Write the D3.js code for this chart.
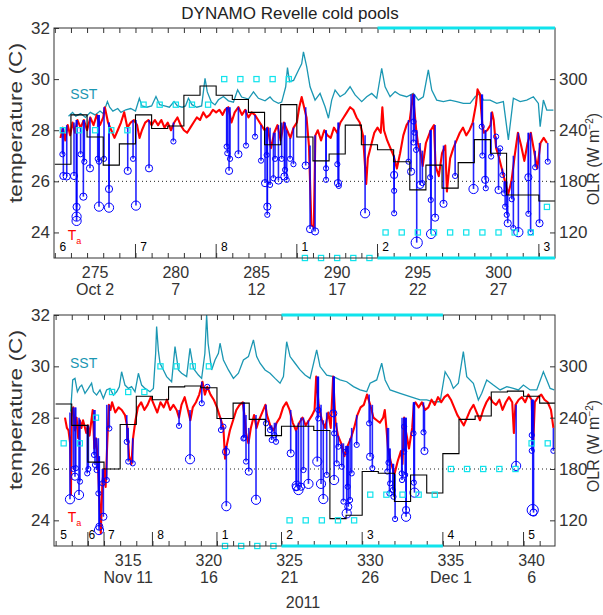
<!DOCTYPE html>
<html>
<head>
<meta charset="utf-8">
<script src="https://cdn.jsdelivr.net/npm/d3@7"></script>
<style>
body { margin: 0; background: #fff; }
svg text { font-family: "Liberation Sans", Arial, Helvetica, sans-serif; }
</style>
</head>
<body>
<div id="chart"></div>
<script>

// ---- top panel data (yearday, value) ----
var topSST = [[273.35,28.55],[273.6,28.7],[273.8,28.55],[274.1,28.65],[274.4,28.5],[274.7,28.7],[275.0,28.6],[275.3,28.75],[275.5,28.65],[275.76,29.12],[275.9,28.9],[276.1,28.75],[276.4,28.85],[276.6,28.7],[276.9,28.8],[277.2,28.85],[277.5,28.75],[277.74,29.25],[277.9,28.95],[278.2,28.9],[278.5,28.95],[278.77,29.32],[279.0,29.0],[279.3,28.95],[279.6,28.9],[279.89,29.12],[280.1,28.95],[280.4,28.9],[280.6,28.95],[280.78,29.25],[281.0,29.0],[281.3,28.9],[281.6,28.95],[281.81,30.03],[281.95,29.5],[282.2,29.1],[282.43,28.99],[282.64,29.19],[282.95,29.32],[283.26,29.15],[283.57,29.1],[283.83,29.58],[284.08,29.3],[284.5,29.22],[284.81,29.5],[285.12,29.25],[285.53,29.15],[285.84,29.3],[286.05,29.15],[286.36,29.05],[286.56,29.1],[286.81,29.7],[286.92,30.45],[287.05,29.9],[287.3,29.95],[287.6,30.35],[287.8,30.6],[287.91,31.07],[288.11,30.49],[288.32,29.7],[288.63,29.18],[288.94,29.44],[289.25,28.92],[289.46,28.47],[289.66,29.18],[289.87,29.57],[290.18,29.31],[290.49,29.44],[290.8,29.7],[291.11,29.38],[291.52,29.12],[291.83,29.31],[292.14,29.44],[292.45,29.25],[292.76,30.42],[292.97,29.7],[293.28,29.31],[293.59,29.51],[293.9,29.38],[294.31,29.31],[294.72,29.44],[295.03,29.18],[295.34,29.31],[295.65,30.36],[295.86,29.57],[296.17,29.18],[296.58,29.12],[297.0,29.18],[297.41,29.12],[297.82,29.05],[298.24,29.05],[298.55,29.31],[298.86,29.44],[299.06,29.18],[299.48,29.18],[299.89,29.05],[300.3,29.12],[300.61,27.62],[300.92,29.25],[301.34,29.12],[301.75,29.18],[302.16,29.31],[302.47,29.05],[302.58,28.14],[302.78,29.18],[302.99,28.79],[303.4,28.79]]

var topTa = [[272.85,27.7],[273.0,28.1],[273.15,27.6],[273.3,28.2],[273.45,27.8],[273.6,28.3],[273.75,27.9],[273.9,28.4],[274.1,28.1],[274.3,28.4],[274.5,28.0],[274.7,28.5],[274.9,28.2],[275.1,28.6],[275.3,28.2],[275.5,28.5],[275.6,28.9],[275.8,28.3],[276.0,28.0],[276.2,27.7],[276.4,28.0],[276.6,28.3],[276.8,28.7],[277.0,28.1],[277.2,28.3],[277.4,28.4],[277.6,28.2],[277.75,27.7],[277.9,28.0],[278.1,28.3],[278.3,28.4],[278.5,28.2],[278.7,28.4],[278.9,28.2],[279.1,28.4],[279.3,28.1],[279.5,28.3],[279.7,28.0],[279.9,28.3],[280.1,28.5],[280.3,28.2],[280.5,28.0],[280.7,27.9],[280.9,28.1],[281.1,28.3],[281.3,28.5],[281.5,28.4],[281.7,28.7],[281.9,28.5],[282.1,28.6],[282.3,28.8],[282.5,28.7],[282.7,28.8],[282.9,28.6],[283.05,28.8],[283.25,28.9],[283.45,28.3],[283.65,28.7],[283.88,28.9],[284.1,28.6],[284.3,28.8],[284.5,28.5],[284.7,28.7],[284.9,28.6],[285.1,28.4],[285.3,28.2],[285.5,28.0],[285.7,28.1],[285.9,27.3],[286.1,27.9],[286.3,28.2],[286.5,27.6],[286.7,28.3],[286.9,28.0],[287.1,27.7],[287.3,28.1],[287.5,28.3],[287.65,28.9],[287.8,29.3],[287.95,28.9],[288.1,28.5],[288.25,27.4],[288.4,24.3],[288.55,24.2],[288.65,27.8],[288.8,28.0],[289.0,27.6],[289.2,28.0],[289.4,27.8],[289.6,27.7],[289.8,28.1],[290.0,27.9],[290.2,28.3],[290.4,28.5],[290.6,28.7],[290.8,28.9],[291.0,28.8],[291.2,28.5],[291.4,28.3],[291.6,27.8],[291.8,25.9],[291.9,26.9],[292.1,27.4],[292.3,27.9],[292.5,28.1],[292.7,27.9],[292.8,28.9],[292.9,28.0],[293.1,27.6],[293.3,27.3],[293.5,27.0],[293.7,26.5],[293.9,27.1],[294.1,27.8],[294.3,28.2],[294.5,28.4],[294.7,29.4],[294.9,28.0],[295.0,27.5],[295.15,27.2],[295.3,26.6],[295.5,27.5],[295.8,28.0],[296.0,28.2],[296.1,26.6],[296.3,26.2],[296.5,27.1],[296.7,27.4],[296.8,25.6],[297.0,26.9],[297.2,27.3],[297.4,27.6],[297.6,27.9],[297.8,28.1],[298.0,27.8],[298.2,28.0],[298.4,28.3],[298.6,29.0],[298.7,29.6],[298.85,29.4],[299.0,28.2],[299.1,27.9],[299.3,28.0],[299.5,28.2],[299.6,28.7],[299.7,28.4],[299.85,27.3],[300.0,27.0],[300.2,26.5],[300.4,26.0],[300.6,25.5],[300.8,26.0],[301.0,27.0],[301.2,27.9],[301.4,27.4],[301.6,26.8],[301.8,27.5],[302.0,27.9],[302.2,27.2],[302.4,26.5],[302.6,27.5],[302.8,27.7],[303.0,27.5]]

// cold pools: [yearday, minimum Ta, magnitude class]
var topPools = [[272.97,27.06,1],[273.03,26.21,2],[273.24,26.19,2],[273.69,26.21,2],[273.85,25.0,2],[273.85,24.62,3],[273.85,24.45,3],[274.1,27.06,1],[274.27,25.4,2],[274.33,26.77,1],[274.68,26.51,2],[275.16,26.88,1],[275.24,26.77,1],[275.24,25.01,3],[275.55,26.88,1],[275.86,25.7,2],[275.86,24.97,3],[277.02,26.41,2],[277.35,26.88,1],[277.53,25.05,3],[278.34,26.51,2],[279.85,27.56,1],[283.15,27.36,1],[283.19,27.1,1],[283.3,26.41,2],[283.36,26.88,1],[283.88,27.06,2],[284.35,27.4,1],[284.91,27.75,1],[285.28,26.81,1],[285.53,25.93,2],[285.63,27.03,1],[285.67,25.01,2],[285.67,24.69,1],[285.84,25.86,1],[286.05,26.12,1],[286.15,26.88,1],[286.36,26.03,2],[286.56,26.88,1],[286.73,26.19,2],[286.77,26.45,1],[286.87,26.06,1],[287.08,26.88,1],[287.29,26.67,1],[288.05,26.62,2],[288.32,24.13,2],[288.63,24.04,2],[289.31,26.51,1],[289.31,26.06,1],[290.01,26.67,1],[290.05,25.93,2],[290.1,25.82,1],[291.73,24.75,3],[293.53,26.25,2],[293.53,25.63,1],[293.53,24.75,1],[294.42,26.77,1],[294.58,26.38,2],[294.73,28.34,1],[294.79,27.91,1],[294.73,27.52,1],[294.89,27.23,1],[294.93,23.6,4],[295.14,25.86,2],[295.28,25.93,1],[295.76,26.16,1],[295.8,25.27,1],[295.82,23.94,3],[296.07,24.58,2],[296.59,25.12,2],[297.31,26.21,1],[298.45,25.7,3],[298.96,28.14,1],[299.0,27.01,1],[299.17,26.06,2],[299.21,25.73,1],[299.54,26.97,1],[299.85,27.75,1],[300.0,25.66,2],[300.1,27.29,1],[300.24,26.25,1],[300.35,25.53,1],[300.41,25.01,1],[300.51,24.69,1],[300.57,24.36,2],[300.82,25.3,1],[300.92,24.17,1],[301.23,24.01,3],[301.85,26.16,2],[301.85,24.73,1],[301.99,24.01,1],[302.27,26.55,1],[302.54,24.36,2],[303.05,26.77,1]]

// daily mean OLR, W m-2
var topOLR = [[273,200],[274,258],[275,232],[276,199],[277,224],[278,258],[279,242],[280,245],[281,281],[282,292],[283,281],[284,276],[285,261],[286,223],[287,270],[288,232],[289,204],[290,212],[291,246],[292,223],[293,217],[294,203],[295,170],[296,199],[297,172],[298,202],[299,229],[300,213],[301,164],[302,164],[303,157]]

// cyan squares (daily, temperature axis)
var topSquares = [[273,28],[274,28],[275,28],[276,28],[277,28],[278,29],[279,29],[280,29],[281,29],[282,29],[283,30],[284,30],[285,30],[286,30],[287,30],[288,23],[289,23],[290,23],[291,23],[292,23],[293,24],[294,24],[295,24],[296,24],[297,24],[298,24],[299,24],[300,24],[301,24],[302,24],[303,25]]

var topPhaseDays = [273, 278, 283, 288, 293, 303]
var topPhaseNames = ["6", "7", "8", "1", "2", "3"]
var topActive = [292.5, 303.5]
var topTickDays = [275, 280, 285, 290, 295, 300]
var topDateNames = ["Oct 2", "7", "12", "17", "22", "27"]

// ---- bottom panel data ----
var botSST = [[311.43,28.23],[311.56,29.47],[311.7,29.53],[311.85,29.01],[312.0,29.2],[312.12,29.27],[312.32,28.95],[312.53,29.14],[312.73,29.34],[312.84,29.01],[313.04,28.88],[313.25,29.08],[313.46,28.75],[313.66,29.08],[313.87,29.14],[314.08,28.88],[314.28,29.01],[314.45,29.2],[314.59,29.79],[314.8,29.27],[315.01,29.14],[315.21,29.21],[315.42,29.01],[315.63,29.73],[315.83,29.27],[316.04,29.14],[316.35,29.01],[316.56,29.14],[316.7,30.5],[316.76,31.55],[316.87,30.6],[316.97,30.12],[317.18,29.86],[317.38,29.6],[317.69,29.4],[317.9,30.77],[318.11,29.86],[318.31,29.73],[318.62,29.6],[318.83,30.7],[319.04,29.92],[319.35,29.66],[319.55,29.53],[319.75,30.5],[319.86,32.0],[319.95,30.9],[320.17,29.86],[320.38,30.25],[320.59,30.51],[320.69,30.9],[320.9,30.25],[321.21,29.86],[321.52,29.53],[321.83,29.73],[322.14,30.25],[322.45,30.38],[322.76,31.03],[322.96,30.38],[323.17,30.12],[323.48,29.86],[323.79,29.73],[324.1,29.53],[324.41,29.34],[324.62,29.6],[324.82,30.96],[325.03,30.38],[325.34,30.12],[325.65,29.86],[325.96,29.66],[326.27,29.53],[326.68,30.64],[326.89,29.99],[327.3,29.66],[327.72,29.6],[328.13,29.47],[328.54,29.4],[328.96,29.21],[329.37,29.08],[329.78,29.01],[329.99,29.34],[330.4,29.47],[330.71,30.12],[330.92,29.47],[331.23,29.08],[331.85,28.95],[332.47,28.82],[333.09,28.69],[333.5,28.69],[333.91,28.62],[334.33,28.62],[334.64,29.79],[334.95,29.47],[335.15,29.14],[335.46,29.34],[335.77,30.57],[335.98,29.6],[336.39,29.34],[336.7,28.69],[336.91,28.95],[337.22,29.47],[337.63,29.27],[338.05,29.08],[338.46,29.21],[338.87,29.14],[339.18,29.08],[339.49,29.27],[339.91,29.08],[340.32,29.08],[340.73,29.79],[340.94,29.47],[341.15,29.14],[341.4,29.08]]

var botTa = [[311.08,28.0],[311.2,27.6],[311.3,27.5],[311.4,27.0],[311.45,25.0],[311.5,28.2],[311.6,28.4],[311.7,27.5],[311.8,28.0],[311.9,27.2],[312.0,27.9],[312.1,27.6],[312.2,27.9],[312.4,27.4],[312.5,27.7],[312.6,27.3],[312.8,28.3],[312.9,26.8],[313.0,27.2],[313.1,26.5],[313.2,25.0],[313.3,23.5],[313.4,25.5],[313.5,26.0],[313.6,25.3],[313.7,27.0],[313.8,28.5],[313.9,28.3],[314.0,28.6],[314.2,28.2],[314.4,28.4],[314.6,28.3],[314.8,28.1],[314.95,27.6],[315.05,26.5],[315.2,26.2],[315.3,27.2],[315.45,27.9],[315.6,28.4],[315.8,28.6],[316.0,28.3],[316.2,28.5],[316.4,28.8],[316.6,28.5],[316.8,28.2],[317.0,28.6],[317.2,28.4],[317.4,28.7],[317.6,28.3],[317.8,28.5],[318.0,28.3],[318.15,28.0],[318.3,28.5],[318.5,28.8],[318.7,28.3],[318.85,27.9],[319.0,28.4],[319.2,28.6],[319.4,28.9],[319.6,29.4],[319.75,28.9],[319.9,29.2],[320.1,28.9],[320.3,28.7],[320.5,28.4],[320.7,28.0],[320.9,27.6],[321.0,26.4],[321.1,26.9],[321.3,27.5],[321.5,27.9],[321.7,28.3],[321.9,28.5],[322.1,28.6],[322.2,28.1],[322.3,27.4],[322.45,27.0],[322.6,27.6],[322.8,28.1],[322.95,27.6],[323.1,27.9],[323.3,28.2],[323.5,28.5],[323.6,28.1],[323.8,27.7],[324.0,27.5],[324.2,27.8],[324.4,28.0],[324.6,28.4],[324.8,28.6],[325.0,28.3],[325.2,27.8],[325.4,27.5],[325.6,27.8],[325.8,28.0],[326.0,27.7],[326.2,27.9],[326.4,28.1],[326.55,28.3],[326.65,29.6],[326.8,28.5],[327.0,27.9],[327.2,27.6],[327.4,28.2],[327.55,27.6],[327.7,29.6],[327.85,27.8],[328.0,27.3],[328.2,27.0],[328.4,26.5],[328.6,26.9],[328.8,27.2],[329.0,27.6],[329.2,28.1],[329.4,28.4],[329.6,28.5],[329.8,28.9],[330.0,28.5],[330.2,28.0],[330.4,27.9],[330.6,27.8],[330.8,28.0],[330.9,28.3],[331.0,27.6],[331.1,26.8],[331.3,26.2],[331.5,25.8],[331.7,26.3],[331.9,26.7],[332.0,26.2],[332.1,28.0],[332.2,27.5],[332.4,26.8],[332.6,27.6],[332.7,28.5],[332.8,28.6],[333.0,28.4],[333.2,28.6],[333.4,28.3],[333.6,28.4],[333.8,28.7],[334.0,28.5],[334.2,28.8],[334.4,28.6],[334.6,28.8],[334.8,28.9],[335.0,28.7],[335.2,28.4],[335.4,28.1],[335.6,27.9],[335.8,27.7],[336.0,28.0],[336.2,28.3],[336.4,28.5],[336.6,28.2],[336.8,27.9],[337.0,28.3],[337.2,28.6],[337.4,28.8],[337.6,28.6],[337.8,28.5],[338.0,28.7],[338.2,28.3],[338.4,28.6],[338.6,28.8],[338.8,28.6],[338.9,27.4],[339.0,28.5],[339.2,28.7],[339.4,28.8],[339.6,28.6],[339.8,28.9],[340.0,28.7],[340.1,27.0],[340.2,28.6],[340.4,28.8],[340.6,28.9],[340.8,28.7],[341.0,28.6],[341.2,28.3],[341.35,27.6]]

var botPools = [[311.39,24.82,3],[311.6,26.0,1],[311.7,25.7,2],[311.75,26.03,1],[311.95,24.99,3],[312.01,25.51,1],[312.46,25.83,1],[312.53,26.0,1],[312.88,26.55,1],[312.94,26.16,1],[313.04,25.96,1],[313.15,25.05,1],[313.19,23.62,3],[313.21,23.75,2],[313.4,25.44,1],[313.46,24.14,2],[313.67,25.57,1],[313.83,27.58,1],[314.91,27.06,1],[315.0,26.29,1],[315.28,26.22,1],[318.15,27.68,1],[318.83,26.38,3],[319.56,28.56,1],[319.9,29.2,1],[320.75,27.52,1],[320.9,27.65,1],[321.06,26.67,2],[321.08,24.55,3],[322.14,27.19,1],[322.19,27.22,1],[322.3,26.29,1],[322.47,25.9,2],[322.92,24.8,3],[323.54,27.78,1],[323.79,27.52,1],[323.89,27.13,1],[324.06,27.32,1],[324.16,27.06,1],[325.07,26.61,2],[325.4,25.29,2],[325.44,25.35,3],[325.55,25.18,3],[325.71,25.31,2],[325.86,25.96,1],[326.17,25.42,3],[326.72,26.29,3],[326.78,27.97,1],[326.78,28.3,1],[326.95,25.42,3],[327.09,24.83,3],[327.3,25.77,1],[327.71,28.17,2],[327.76,27.39,1],[327.76,25.57,3],[327.92,26.22,1],[328.02,26.87,1],[328.23,26.09,1],[328.34,24.73,1],[328.48,26.67,1],[328.54,24.27,3],[328.6,25.31,1],[328.64,24.53,2],[328.75,24.79,1],[328.85,25.83,1],[329.16,26.94,1],[329.93,27.78,1],[329.99,26.48,2],[330.13,26.03,1],[331.06,25.9,1],[331.13,26.25,1],[331.19,25.05,1],[331.23,25.44,1],[331.4,25.18,1],[331.44,24.92,1],[331.54,24.05,1],[331.95,25.83,1],[331.97,25.57,1],[332.1,27.65,1],[332.1,26.68,1],[332.16,25.77,1],[332.22,24.14,3],[332.22,24.4,2],[332.68,27.39,1],[332.7,25.47,1],[332.74,25.08,3],[333.3,27.43,1],[333.36,26.7,2],[339.04,26.12,3],[340.01,27.32,1],[340.01,26.71,1],[340.07,24.4,4],[340.12,24.3,2],[341.35,26.71,1]]

var botOLR = [[311,256],[312,231],[313,188],[314,180],[315,232],[316,265],[317,261],[318,276],[319,277],[320,275],[321,239],[322,257],[323,238],[324,219],[325,230],[326,230],[327,225],[328,122],[329,126],[330,177],[331,175],[332,142],[333,173],[334,152],[335,198],[336,238],[337,242],[338,270],[339,271],[340,265],[341,257]]

var botSquares = [[311,27],[312,27],[313,28],[314,29],[315,29],[316,29],[317,30],[318,30],[319,30],[320,30],[321,23],[322,23],[323,23],[324,23],[325,24],[326,24],[327,24],[328,24],[329,24],[330,25],[331,25],[332,25],[333,25],[334,25],[335,26],[336,26],[337,26],[338,26],[339,26],[340,27],[341,27]]

var botPhaseDays = [311, 312.75, 313.95, 317, 321, 325, 330, 335, 340]
var botPhaseNames = ["5", "6", "7", "8", "1", "2", "3", "4", "5"]
var botActive = [324.5, 334.5]
var botTickDays = [315, 320, 325, 330, 335, 340]
var botDateNames = ["Nov 11", "16", "21", "26", "Dec 1", "6"]

var sstColor = "#1b97b3"
var taColor = "#ff0000"
var poolColor = "#0000ff"
var cyan = "#10e3ec"
var textColor = "#333"

var width = 603, height = 615
var plotLeft = 54, plotRight = 555

var svg = d3.select("#chart").append("svg")
    .attr("width", width)
    .attr("height", height)

svg.append("rect").attr("width", width).attr("height", height).attr("fill", "#fff")

svg.append("text")
    .attr("x", 290).attr("y", 19)
    .attr("text-anchor", "middle")
    .style("font-size", "17px")
    .attr("fill", "#222")
    .text("DYNAMO Revelle cold pools")

svg.append("text")
    .attr("x", 303).attr("y", 608)
    .attr("text-anchor", "middle")
    .style("font-size", "16px")
    .attr("fill", textColor)
    .text("2011")

drawPanel({name: "top", top: 28, bottom: 258, domain: [272.45, 303.5],
    sst: topSST, ta: topTa, pools: topPools, olr: topOLR, squares: topSquares,
    phaseDays: topPhaseDays, phaseNames: topPhaseNames, active: topActive,
    tickDays: topTickDays, dateNames: topDateNames,
    sstLabel: [273.45, 29.22], taLabel: [273.3, 23.72]})

drawPanel({name: "bot", top: 315, bottom: 546, domain: [310.4, 341.45],
    sst: botSST, ta: botTa, pools: botPools, olr: botOLR, squares: botSquares,
    phaseDays: botPhaseDays, phaseNames: botPhaseNames, active: botActive,
    tickDays: botTickDays, dateNames: botDateNames,
    sstLabel: [311.39, 29.94], taLabel: [311.25, 23.95]})


// highest Ta sample close to the event, where the blue drop starts
function taBefore(ta, day) {
    var near = ta.filter(function(d) { return Math.abs(d[0] - day) <= 0.15 })
    if (near.length) return d3.max(near, function(d) { return d[1] })
    return ta[d3.bisector(function(d) { return d[0] }).center(ta, day)][1]
}

function drawPanel(p) {

    var x = d3.scaleLinear().domain(p.domain).range([plotLeft, plotRight])
    var y = d3.scaleLinear().domain([23, 32]).range([p.bottom, p.top])
    var yOlr = d3.scaleLinear().domain([90, 360]).range([p.bottom, p.top])
    var r = d3.scaleLinear().domain([1, 4]).range([2.6, 5.6])

    var g = svg.append("g").classed("panel-" + p.name, true)

    svg.append("clipPath").attr("id", "clip-" + p.name)
        .append("rect")
        .attr("x", plotLeft).attr("y", p.top)
        .attr("width", plotRight - plotLeft).attr("height", p.bottom - p.top)

    var plot = g.append("g").attr("clip-path", "url(#clip-" + p.name + ")")

    plot.append("line")
        .attr("x1", plotLeft).attr("x2", plotRight)
        .attr("y1", y(26)).attr("y2", y(26))
        .attr("stroke", "#222").attr("stroke-width", 1)
        .attr("stroke-dasharray", "1,3")

    var line = d3.line()
        .x(function(d) { return x(d[0]) })
        .y(function(d) { return y(d[1]) })

    plot.append("path").datum(p.sst)
        .attr("d", line)
        .attr("fill", "none")
        .attr("stroke", sstColor)
        .attr("stroke-width", 1.3)

    plot.append("path").datum(p.ta)
        .attr("d", line)
        .attr("fill", "none")
        .attr("stroke", taColor)
        .attr("stroke-width", 2.1)
        .attr("stroke-linejoin", "round")

    plot.selectAll(".drop")
        .data(p.pools)
        .enter().append("line")
        .attr("class", "drop")
        .attr("x1", function(d) { return x(d[0]) })
        .attr("x2", function(d) { return x(d[0]) })
        .attr("y1", function(d) { return y(taBefore(p.ta, d[0])) })
        .attr("y2", function(d) { return y(d[1]) })
        .attr("stroke", poolColor)
        .attr("stroke-width", 1.6)
        .attr("opacity", 0.85)

    plot.selectAll(".pool")
        .data(p.pools)
        .enter().append("circle")
        .attr("class", "pool")
        .attr("cx", function(d) { return x(d[0]) })
        .attr("cy", function(d) { return y(d[1]) })
        .attr("r", function(d) { return r(d[2]) })
        .attr("fill", "none")
        .attr("stroke", poolColor)
        .attr("stroke-width", 1)

    // daily OLR as steps centred on each day
    var last = p.olr[p.olr.length - 1]
    var steps = p.olr.map(function(d) { return [d[0] - 0.5, d[1]] }).concat([[last[0] + 0.5, last[1]]])

    var stepLine = d3.line()
        .x(function(d) { return x(d[0]) })
        .y(function(d) { return yOlr(d[1]) })
        .curve(d3.curveStepAfter)

    plot.append("path").datum(steps)
        .attr("d", stepLine)
        .attr("fill", "none")
        .attr("stroke", "#000")
        .attr("stroke-width", 1.1)

    g.selectAll(".sq")
        .data(p.squares)
        .enter().append("rect")
        .attr("class", "sq")
        .attr("x", function(d) { return x(d[0]) - 2.6 })
        .attr("y", function(d) { return y(d[1]) - 2.6 })
        .attr("width", 5.2).attr("height", 5.2)
        .attr("fill", "none")
        .attr("stroke", cyan)
        .attr("stroke-width", 1.2)

    // axes
    var minorDays = d3.range(Math.ceil(p.domain[0] - 0.5) + 0.5, p.domain[1], 1)

    var xBottom = d3.axisBottom(x).tickValues(minorDays).tickSizeInner(-5).tickSizeOuter(0).tickFormat("")
    var xTop = d3.axisTop(x).tickValues(minorDays).tickSizeInner(-5).tickSizeOuter(0).tickFormat("")
    var yLeft = d3.axisLeft(y).tickValues([24, 26, 28, 30, 32]).tickSizeInner(-5).tickSizeOuter(0).tickPadding(4)
    var yRight = d3.axisRight(yOlr).tickValues([120, 180, 240, 300]).tickSizeInner(-5).tickSizeOuter(0).tickPadding(4)

    var axes = g.append("g")
    axes.append("g").attr("transform", "translate(0," + p.bottom + ")").call(xBottom)
    axes.append("g").attr("transform", "translate(0," + p.top + ")").call(xTop)
    axes.append("g").attr("transform", "translate(" + plotLeft + ",0)").call(yLeft)
    axes.append("g").attr("transform", "translate(" + plotRight + ",0)").call(yRight)

    axes.selectAll(".domain").remove()
    axes.selectAll(".tick line").attr("stroke", "#333")
    axes.selectAll(".tick text")
        .style("font-size", "17px")
        .attr("fill", textColor)

    g.append("rect")
        .attr("x", plotLeft).attr("y", p.top)
        .attr("width", plotRight - plotLeft).attr("height", p.bottom - p.top)
        .attr("fill", "none")
        .attr("stroke", "#333")
        .attr("stroke-width", 1)

    // phase boundaries and labels
    g.selectAll(".phase-tick")
        .data(p.phaseDays.filter(function(d) { return Math.round(d) - 0.5 > p.domain[0] + 0.2 }))
        .enter().append("line")
        .attr("x1", function(d) { return x(Math.round(d) - 0.5) })
        .attr("x2", function(d) { return x(Math.round(d) - 0.5) })
        .attr("y1", p.bottom).attr("y2", p.bottom - 14)
        .attr("stroke", "#333")

    g.selectAll(".phase")
        .data(p.phaseDays)
        .enter().append("text")
        .attr("x", function(d) { return x(d) })
        .attr("y", p.bottom - 7)
        .attr("text-anchor", "middle")
        .style("font-size", "12px")
        .attr("fill", "#000")
        .text(function(d, i) { return p.phaseNames[i] })

    // active phases bars along top and bottom edges
    ;[p.top, p.bottom].forEach(function(yy) {
        g.append("line")
            .attr("x1", x(p.active[0])).attr("x2", x(Math.min(p.active[1], p.domain[1])))
            .attr("y1", yy).attr("y2", yy)
            .attr("stroke", cyan)
            .attr("stroke-width", 3)
    })

    // x tick labels: yearday and date
    g.selectAll(".yday")
        .data(p.tickDays)
        .enter().append("text")
        .attr("x", function(d) { return x(d) })
        .attr("y", p.bottom + 20)
        .attr("text-anchor", "middle")
        .style("font-size", "16px")
        .attr("fill", textColor)
        .text(function(d) { return d })

    g.selectAll(".date")
        .data(p.tickDays)
        .enter().append("text")
        .attr("x", function(d) { return x(d) })
        .attr("y", p.bottom + 37)
        .attr("text-anchor", "middle")
        .style("font-size", "16px")
        .attr("fill", textColor)
        .text(function(d, i) { return p.dateNames[i] })

    // series labels
    g.append("text")
        .attr("x", x(p.sstLabel[0])).attr("y", y(p.sstLabel[1]))
        .style("font-size", "14px")
        .attr("fill", sstColor)
        .text("SST")

    var ta = g.append("text")
        .attr("x", x(p.taLabel[0])).attr("y", y(p.taLabel[1]))
        .style("font-size", "14px")
        .attr("fill", taColor)
    ta.append("tspan").text("T")
    ta.append("tspan").attr("dy", 4).style("font-size", "9px").text("a")

    // axis titles
    g.append("text")
        .attr("transform", "translate(22," + (p.top + 95) + ") rotate(-90)")
        .attr("text-anchor", "middle")
        .attr("textLength", 160)
        .attr("lengthAdjust", "spacingAndGlyphs")
        .style("font-size", "19px")
        .attr("fill", textColor)
        .text("temperature (C)")

    var olr = g.append("text")
        .attr("transform", "translate(599," + (p.top + 131) + ") rotate(-90)")
        .attr("text-anchor", "middle")
        .style("font-size", "16px")
        .attr("fill", textColor)
    olr.append("tspan").text("OLR (W m")
    olr.append("tspan").attr("dy", -6).style("font-size", "10px").text("\u22122")
    olr.append("tspan").attr("dy", 6).text(")")
}

</script>
</body>
</html>
